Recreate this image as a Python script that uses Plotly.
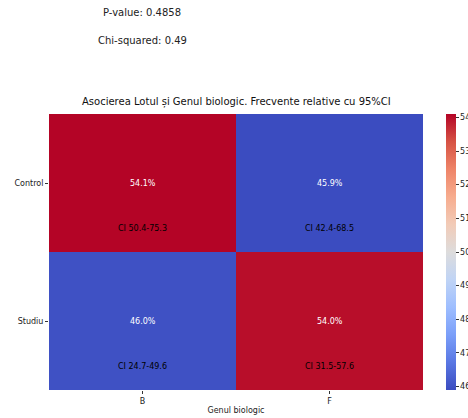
import plotly.graph_objects as go

# ---- data ----
rows = ["Control", "Studiu"]
cols = ["B", "F"]
pct = [[54.1, 45.9],
       [46.0, 54.0]]
ci_low = [[50.4, 42.4],
          [24.7, 31.5]]
ci_high = [[75.3, 68.5],
           [49.6, 57.6]]
p_value = 0.4858
chi_squared = 0.49
cbar_ticks = [46, 47, 48, 49, 50, 51, 52, 53, 54]

title_text = "Asocierea Lotul și Genul biologic. Frecvente relative cu 95%CI"
x_title = "Genul biologic"

coolwarm = ['#3b4cc0', '#5977e3', '#7b9ff9', '#9ebeff', '#c0d4f5', '#dddcdc',
            '#f2cbb7', '#f7ac8e', '#ee8468', '#d65244', '#b40426']
colorscale = [[i / (len(coolwarm) - 1), c] for i, c in enumerate(coolwarm)]

FONT = "DejaVu Sans"
W, H = 468, 418
L, R, T, B = 49, 45, 114, 28

fig = go.Figure()
fig.add_trace(go.Heatmap(
    z=pct, x=cols, y=rows,
    colorscale=colorscale,
    zmin=min(min(r) for r in pct), zmax=max(max(r) for r in pct),
    xgap=0, ygap=0, hoverinfo="skip",
    colorbar=dict(
        x=(446 - L) / (W - L - R), xanchor="left", xpad=0,
        y=0.5, yanchor="middle", len=1.0, lenmode="fraction", ypad=0,
        thickness=10, outlinewidth=0,
        tickvals=cbar_ticks, ticks="outside", ticklen=3, tickwidth=1,
        tickcolor="#333", tickfont=dict(family=FONT, size=8, color="#222"),
    ),
))

annotations = []
for i, r in enumerate(rows):
    for j, c in enumerate(cols):
        annotations.append(dict(
            x=c, y=i, xref="x", yref="y", text=f"{pct[i][j]:.1f}%",
            showarrow=False, font=dict(family=FONT, size=8, color="white")))
        annotations.append(dict(
            x=c, y=i + 0.33, xref="x", yref="y",
            text=f"CI {ci_low[i][j]}-{ci_high[i][j]}",
            showarrow=False, font=dict(family=FONT, size=8, color="black")))

ph = H - T - B
pw = W - L - R
def py(pix):
    return 1 + (T - pix) / ph

annotations += [
    dict(x=(142 - L) / pw, y=py(13), xref="paper", yref="paper",
         xanchor="center", yanchor="middle",
         text=f"P-value: {p_value}", showarrow=False,
         font=dict(family=FONT, size=10, color="#222")),
    dict(x=(142 - L) / pw, y=py(41), xref="paper", yref="paper",
         xanchor="center", yanchor="middle",
         text=f"Chi-squared: {chi_squared}", showarrow=False,
         font=dict(family=FONT, size=10, color="#222")),
    dict(x=(236 - L) / pw, y=py(102), xref="paper", yref="paper",
         xanchor="center", yanchor="middle",
         text=title_text, showarrow=False,
         font=dict(family=FONT, size=10, color="#111")),
]

fig.update_layout(
    width=W, height=H,
    margin=dict(l=L, r=R, t=T, b=B, pad=0, autoexpand=False),
    paper_bgcolor="white", plot_bgcolor="white",
    font=dict(family=FONT, size=8, color="#222"),
    annotations=annotations,
    xaxis=dict(title=dict(text=x_title, font=dict(family=FONT, size=8), standoff=2),
               ticks="outside", ticklen=3, tickcolor="#333", showgrid=False,
               zeroline=False, showline=False, tickfont=dict(size=8), automargin=False),
    yaxis=dict(autorange="reversed", ticks="outside", ticklen=3, tickcolor="#333",
               showgrid=False, zeroline=False, showline=False, tickfont=dict(size=8),
               automargin=False),
)

fig.write_html("out.html")
